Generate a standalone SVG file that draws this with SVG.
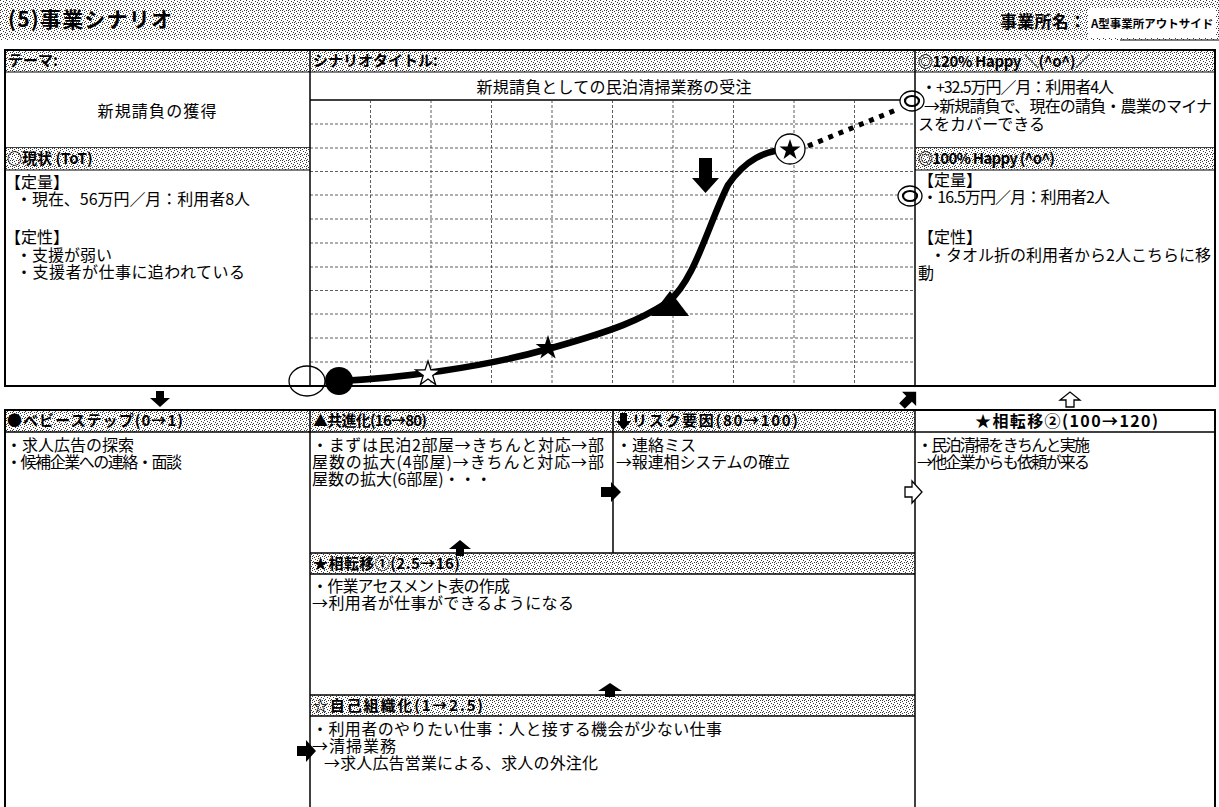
<svg xmlns="http://www.w3.org/2000/svg" xmlns:xlink="http://www.w3.org/1999/xlink" width="1219" height="807" viewBox="0 0 1219 807">
<defs>
<pattern id="st" width="6" height="6" patternUnits="userSpaceOnUse">
<rect width="6" height="6" fill="#fff"/>
<path d="M0 0h1v1h-1z M3 1h1v1h-1z M1 3h1v1h-1z M4 4h1v1h-1z M5 2h1v1h-1z M2 5h1v1h-1z M0 4h1v1h-1z" fill="#3a3a3a"/>
</pattern>
<path id="star" d="M0,-13 L2.94,-4.05 L12.36,-4.02 L4.76,1.55 L7.64,10.52 L0,5 L-7.64,10.52 L-4.76,1.55 L-12.36,-4.02 L-2.94,-4.05 Z"/>
<style>
text{font-family:"Noto Sans CJK JP","Noto Sans CJK SC",sans-serif;fill:#000;font-size:16px}
.h{font-weight:700;font-size:15px}
.t{font-weight:700;font-size:21px}
.hd{fill:url(#st);stroke:none}
.bd{fill:none;stroke:#000;stroke-width:2}
.ln{stroke:#000;stroke-width:1.5;fill:none}
.th{stroke:#000;stroke-width:1;fill:none}
.grid{stroke:#333;stroke-width:0.8;stroke-dasharray:3 2;fill:none}
.blk{fill:#000;stroke:none}
.wht{fill:#fff;stroke:#000;stroke-width:1.3}
</style>
</defs>
<rect width="1219" height="807" fill="#fff"/>

<g id="title">
<rect x="0" y="0" width="1219" height="40" class="hd"/>
<text x="8" y="27" class="t" textLength="164">(5)事業シナリオ</text>
<rect x="1088" y="8" width="128" height="30" fill="#fff"/>
<line x1="1120" y1="40" x2="1219" y2="40" class="th"/>
<text x="1000" y="28" style="font-weight:700;font-size:17px" textLength="86">事業所名：</text>
<text x="1091" y="28" style="font-weight:700;font-size:11.5px">A型事業所アウトサイド</text>
</g>

<g id="theme">
<rect x="5" y="50" width="305" height="22" class="hd"/>
<text x="8" y="66" class="h">テーマ:</text>
<line x1="5" y1="72" x2="310" y2="72" class="th"/>
<text x="157" y="117" text-anchor="middle" textLength="119">新規請負の獲得</text>
</g>

<g id="current">
<line x1="5" y1="148" x2="310" y2="148" class="ln"/>
<rect x="5" y="148" width="305" height="22" class="hd"/>
<text x="7" y="164" class="h">○現状 (ToT)</text>
<line x1="5" y1="170" x2="310" y2="170" class="th"/>
<text x="5" y="188">【定量】</text>
<text x="16" y="205" textLength="234">・現在、56万円／月：利用者8人</text>
<text x="5" y="243">【定性】</text>
<text x="16" y="261">・支援が弱い</text>
<text x="16" y="278" textLength="229">・支援者が仕事に追われている</text>
</g>

<g id="scenario">
<rect x="310" y="50" width="605" height="22" class="hd"/>
<text x="313" y="66" class="h">シナリオタイトル:</text>
<line x1="310" y1="72" x2="915" y2="72" class="th"/>
<text x="614" y="93" text-anchor="middle" textLength="275">新規請負としての民泊清掃業務の受注</text>
<line x1="310" y1="100" x2="915" y2="100" class="ln"/>
</g>

<g id="chart">
<path class="grid" d="M370.5 100V386 M431 100V386 M491.5 100V386 M552 100V386 M612.5 100V386 M673 100V386 M733.5 100V386 M794 100V386 M854.5 100V386"/>
<path class="grid" d="M310 124H915 M310 148H915 M310 171.5H915 M310 195H915 M310 219H915 M310 243H915 M310 267H915 M310 290.5H915 M310 314H915 M310 338H915 M310 362H915"/>
<path d="M340 381 C400 378 480 368 548 349 S640 320 668 302 C695 280 708 225 728 185 C745 160 765 150 790 149" fill="none" stroke="#000" stroke-width="6.5" stroke-linecap="round"/>
<path d="M808 146 L896 110" fill="none" stroke="#000" stroke-width="5" stroke-dasharray="5 6"/>
<ellipse cx="307" cy="381" rx="18" ry="15" class="wht"/>
<circle cx="339" cy="381" r="14" class="blk"/>
<use xlink:href="#star" transform="translate(428,374)" fill="#fff" stroke="#000" stroke-width="1.3"/>
<use xlink:href="#star" transform="translate(548,348)" fill="#000"/>
<polygon points="670,291 651,316 689,316" class="blk"/>
<polygon points="699,158 712,158 712,178 719,178 705.5,193 692,178 699,178" class="blk"/>
<circle cx="790" cy="149" r="15" class="wht"/>
<use xlink:href="#star" transform="translate(790,150) scale(0.85)" fill="#000"/>
<ellipse cx="912" cy="101" rx="12" ry="10" class="wht" stroke-width="2.2"/>
<ellipse cx="912" cy="101" rx="7" ry="5" fill="none" stroke="#000" stroke-width="2.2"/>
<ellipse cx="910" cy="196" rx="12" ry="10" class="wht" stroke-width="2.2"/>
<ellipse cx="910" cy="196" rx="7" ry="5" fill="none" stroke="#000" stroke-width="2.2"/>
</g>

<g id="happy120">
<rect x="915" y="50" width="300" height="22" class="hd"/>
<text x="918" y="67" class="h" textLength="172">◎120% Happy ＼(^o^)／</text>
<line x1="915" y1="72" x2="1215" y2="72" class="th"/>
<text x="921" y="93" textLength="193">・+32.5万円／月：利用者4人</text>
<text x="924" y="112" textLength="288">→新規請負で、現在の請負・農業のマイナ</text>
<text x="918" y="130" textLength="127">スをカバーできる</text>
</g>

<g id="happy100">
<line x1="915" y1="148" x2="1215" y2="148" class="ln"/>
<rect x="915" y="148" width="300" height="22" class="hd"/>
<text x="918" y="164" class="h" textLength="137">◎100% Happy (^o^)</text>
<line x1="915" y1="170" x2="1215" y2="170" class="th"/>
<text x="918" y="186">【定量】</text>
<text x="922" y="203" textLength="188">・16.5万円／月：利用者2人</text>
<text x="918" y="243">【定性】</text>
<text x="930" y="261" textLength="281">・タオル折の利用者から2人こちらに移</text>
<text x="918" y="279">動</text>
</g>

<g id="topframe">
<rect x="5" y="50" width="1210" height="336" class="bd"/>
<line x1="310" y1="50" x2="310" y2="386" class="ln"/>
<line x1="915" y1="50" x2="915" y2="386" class="ln"/>
</g>

<g id="babystep">
<rect x="5" y="410" width="305" height="22" class="hd"/>
<text x="7" y="426" class="h" textLength="176">●ベビーステップ(0→1)</text>
<text x="6" y="451">・求人広告の探索</text>
<text x="6" y="468" textLength="176">・候補企業への連絡・面談</text>
</g>

<g id="coevolution">
<rect x="310" y="410" width="303" height="22" class="hd"/>
<text x="313" y="426" class="h" textLength="114">▲共進化(16→80)</text>
<text x="312" y="451" textLength="292">・まずは民泊2部屋→きちんと対応→部</text>
<text x="312" y="468" textLength="292">屋数の拡大(4部屋)→きちんと対応→部</text>
<text x="312" y="485">屋数の拡大(6部屋)・・・</text>
</g>

<g id="risk">
<rect x="613" y="410" width="302" height="22" class="hd"/>
<polygon points="620,413 627,413 627,421 631,421 623.5,430 616,421 620,421" class="blk"/>
<text x="632" y="426" class="h" textLength="166">リスク要因(80→100)</text>
<text x="616" y="451">・連絡ミス</text>
<text x="616" y="468" textLength="174">→報連相システムの確立</text>
</g>

<g id="phase2">
<text x="975" y="427" class="h" style="font-size:16px" textLength="183">★相転移②(100→120)</text>
<text x="917" y="451" textLength="173">・民泊清掃をきちんと実施</text>
<text x="917" y="468" textLength="173">→他企業からも依頼が来る</text>
</g>

<g id="phase1">
<rect x="310" y="553" width="605" height="21" class="hd"/>
<text x="313" y="569" class="h" textLength="147">★相転移①(2.5→16)</text>
<text x="312" y="592" textLength="198">・作業アセスメント表の作成</text>
<text x="312" y="609" textLength="262">→利用者が仕事ができるようになる</text>
</g>

<g id="selforg">
<rect x="310" y="695" width="605" height="21" class="hd"/>
<text x="313" y="711" class="h" textLength="170">☆自己組織化(1→2.5)</text>
<text x="312" y="735" textLength="410">・利用者のやりたい仕事：人と接する機会が少ない仕事</text>
<text x="312" y="752" textLength="84">→清掃業務</text>
<text x="324" y="769" textLength="274">→求人広告営業による、求人の外注化</text>
</g>

<g id="bottomframe">
<line x1="4" y1="410" x2="1216" y2="410" class="bd"/>
<line x1="5" y1="410" x2="5" y2="807" class="bd"/>
<line x1="1215" y1="410" x2="1215" y2="807" class="bd"/>
<line x1="310" y1="410" x2="310" y2="807" class="ln"/>
<line x1="915" y1="410" x2="915" y2="807" class="ln"/>
<line x1="613" y1="410" x2="613" y2="553" class="ln"/>
<line x1="5" y1="432" x2="1215" y2="432" class="ln"/>
<line x1="310" y1="553" x2="915" y2="553" class="ln"/>
<line x1="310" y1="574" x2="915" y2="574" class="ln"/>
<line x1="310" y1="695" x2="915" y2="695" class="ln"/>
<line x1="310" y1="716" x2="915" y2="716" class="ln"/>
</g>

<g id="connectors">
<polygon points="156,391 164,391 164,398 170,398 160,407 150,398 156,398" class="blk"/>
<polygon points="0,-4 10,-4 10,-10 20,0 10,10 10,4 0,4" class="blk" transform="translate(902,406) rotate(-45)"/>
<polygon points="1066,407 1074,407 1074,400 1080,400 1070,392 1060,400 1066,400" class="wht"/>
<polygon points="601,487 611,487 611,482 621,492 611,502 611,497 601,497" class="blk"/>
<polygon points="905,487 912,487 912,481 922,492 912,503 912,497 905,497" class="wht"/>
<polygon points="456,556 464,556 464,549 471,549 460,540 449,549 456,549" class="blk"/>
<polygon points="605,697 615,697 615,691 622,691 610,683 598,691 605,691" class="blk"/>
<polygon points="297,746 306,746 306,740 316,751 306,762 306,756 297,756" class="blk"/>
</g>
</svg>
